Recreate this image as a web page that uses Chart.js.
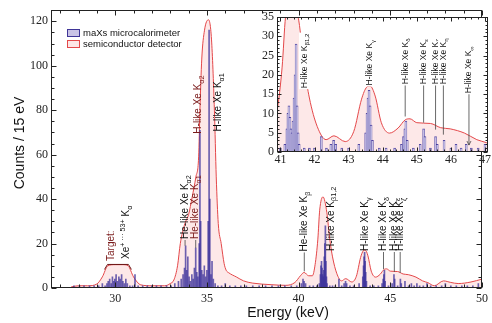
<!DOCTYPE html>
<html>
<head>
<meta charset="utf-8">
<script src="https://cdn.jsdelivr.net/npm/chart.js@4/dist/chart.umd.min.js"></script>
<style>
  html, body { margin: 0; padding: 0; background: #fff; }
  #wrap { position: relative; width: 492px; height: 323px; }
  #main { position: absolute; left: 0; top: 0; }
  #inset { position: absolute; left: 250px; top: 5px; }
</style>
</head>
<body>
<div id="wrap">
  <canvas id="main" width="492" height="323"></canvas>
  <canvas id="inset" width="242" height="170"></canvas>
</div>
<script>
// semiconductor detector (smooth curve), keV / counts
const semiEnergy = [27.6, 28.0, 28.5, 29.0, 29.3, 29.6, 30.0, 30.4, 30.7, 31.0, 31.4, 32.0, 32.7, 33.0, 33.2, 33.4,
  33.55, 33.8, 34.0, 34.2, 34.4, 34.55, 34.62, 34.72, 34.87, 35.09, 35.25, 35.41, 35.51, 35.62, 35.78, 35.94,
  36.05, 36.2, 36.6, 37.0, 37.5, 38.5, 39.3, 39.8, 40.1, 40.3, 40.55, 40.75, 40.9, 41.05, 41.15, 41.33,
  41.54, 41.7, 41.85, 42.08, 42.34, 42.57, 42.9, 43.15, 43.38, 43.53, 43.63, 43.78, 43.96, 44.2, 44.45,
  44.67, 44.8, 45.0, 45.4, 45.7, 45.98, 46.4, 46.76, 47.05, 47.4, 47.9, 48.3, 48.7, 49.4, 50.0];
const semiCounts = [0.5, 1.0, 1.0, 1.8, 5, 10, 10.5, 10.5, 10, 5, 1.4, 1.0, 1.0, 2, 3.6, 10,
  20, 29, 33, 41, 50, 59, 80, 103, 116, 120.7, 112, 80, 50, 29, 20, 11,
  8, 6.8, 5, 3.2, 2.2, 1.5, 1.2, 2.5, 5.5, 7, 5.5, 5.5, 10.5, 22, 35, 41,
  34, 22, 14, 6.6, 3.2, 4.2, 2.7, 5.3, 13.7, 16.8, 17.1, 14.5, 7.6, 4.9, 6.2,
  8.4, 8.6, 7.6, 7.4, 6.3, 6.0, 4.9, 3.2, 2.4, 1.0, 3.2, 2.5, 2.0, 2.7, 4];

// maXs microcalorimeter (15 eV bins), keV / counts
const microEnergy = [27.75, 28.05, 28.3, 28.6, 28.85, 29.1, 29.3, 29.45, 29.55, 29.62, 29.7, 29.78, 29.85, 29.92,
  29.98, 30.05, 30.12, 30.2, 30.27, 30.35, 30.42, 30.5, 30.58, 30.66, 30.8, 30.95, 31.08, 31.25, 31.5, 31.75,
  32.0, 32.25, 32.5, 32.8, 33.05, 33.25, 33.45, 33.6, 33.7, 33.78, 33.84, 33.9, 33.96, 34.03, 34.1, 34.18,
  34.25, 34.32, 34.39, 34.45, 34.51, 34.58, 34.62, 34.66, 34.72, 34.79, 34.86, 34.93, 35.0, 35.07, 35.12,
  35.16, 35.22, 35.28, 35.35, 35.45, 35.6, 35.8, 36.0, 36.25, 36.55, 36.85, 37.15, 37.5, 37.85, 38.2, 38.55,
  38.9, 39.25, 39.6, 39.9, 40.15, 40.24, 40.3, 40.38, 40.6, 40.8, 41.0, 41.13, 41.19, 41.22, 41.25, 41.28,
  41.31, 41.34, 41.37, 41.4, 41.43, 41.46, 41.49, 41.52, 41.55, 41.7, 41.85, 42.0, 42.2, 42.35, 42.48, 42.56,
  42.62, 42.8, 43.0, 43.3, 43.5, 43.54, 43.57, 43.6, 43.63, 43.66, 43.7, 43.9, 44.1, 44.35, 44.55, 44.61,
  44.65, 44.68, 44.72, 44.9, 45.1, 45.2, 45.24, 45.4, 45.55, 45.6, 45.8, 46.0, 46.15, 46.3, 46.45, 46.6,
  46.8, 47.0, 47.2, 47.5, 47.8, 48.0, 48.3, 48.6, 48.9, 49.2, 49.5, 49.8];
const microCounts = [1, 1, 1, 1, 1, 1, 2, 1, 2, 3, 4, 2, 5, 3,
  4, 6, 3, 5, 4, 6, 3, 2, 4, 2, 1, 1, 6, 1, 1, 1,
  1, 1, 1, 1, 1, 2, 3, 4, 6, 9, 19, 8, 14, 5, 3, 6,
  4, 9, 18, 7, 5, 20, 71, 30, 8, 6, 10, 5, 8, 30, 116,
  40, 6, 12, 4, 2, 1, 1, 2, 1, 1, 1, 1, 1, 1, 1, 1,
  1, 1, 1, 1, 2, 4, 3, 2, 1, 1, 1, 2, 6, 10, 12, 9,
  6, 5, 8, 14, 20, 28, 12, 5, 2, 1, 1, 1, 4, 1, 2, 3,
  2, 1, 1, 2, 5, 10, 14, 16, 12, 7, 3, 1, 1, 1, 2, 4,
  6, 8, 3, 1, 2, 6, 4, 1, 4, 2, 3, 1, 2, 1, 2, 1,
  1, 2, 1, 1, 1, 2, 1, 1, 1, 1, 1, 2];

const seriesNames = ['maXs microcalorimeter', 'semiconductor detector'];

// peak annotations: energy, label start (counts), optional pointer end (counts)
const mainLabels = [
  { e: 29.81, at: 11.7, segs: [['Target:', 0]], color: '#7a1a1a' },
  { e: 30.61, at: 12.6, segs: [['Xe', 0], ['+ \u00b7\u00b7\u00b7 53+', -1], [' K', 0], ['\u03b1', 1]] },
  { e: 33.81, at: 21.6, to: 19, segs: [['He-like Xe K', 0], ['\u03b12', 1]] },
  { e: 34.39, at: 21.6, to: 18, segs: [['He-like Xe K', 0], ['\u03b11', 1]], color: '#7a1a1a' },
  { e: 34.55, at: 69, segs: [['H-like Xe K', 0], ['\u03b12', 1]], color: '#7a1a1a' },
  { e: 35.62, at: 70, segs: [['H-like Xe K', 0], ['\u03b11', 1]] },
  { e: 40.31, at: 16, to: 7.5, segs: [['He-like Xe K', 0], ['\u03b2', 1]] },
  { e: 41.76, at: 16.2, segs: [['H-like Xe K', 0], ['\u03b21,2', 1]] },
  { e: 43.62, at: 16.2, segs: [['H-like Xe K', 0], ['\u03b3', 1]] },
  { e: 44.63, at: 16.2, to: 8.5, segs: [['H-like Xe K', 0], ['\u03b4', 1]] },
  { e: 45.22, at: 16.2, to: 7.2, segs: [['H-like Xe K', 0], ['\u03b5', 1]] },
  { e: 45.54, at: 16.2, to: 6.8, segs: [['H-like Xe K', 0], ['\u03b6', 1]] }
];
const insetLabels = [
  { e: 41.7, at: 16.3, segs: [['H-like Xe K', 0], ['\u03b21,2', 1]], bg: true },
  { e: 43.63, at: 17.0, segs: [['H-like Xe K', 0], ['\u03b3', 1]], bg: true },
  { e: 44.66, at: 17.3, to: 9.2, segs: [['H-like Xe K', 0], ['\u03b4', 1]], bg: true },
  { e: 45.2, at: 17.3, to: 7.6, segs: [['H-like Xe K', 0], ['\u03b5', 1]], bg: true },
  { e: 45.55, at: 17.3, to: 5.8, segs: [['H-like Xe K', 0], ['\u03b6', 1]], bg: true },
  { e: 45.78, at: 17.3, to: 4.5, segs: [['H-like Xe K', 0], ['\u03b7', 1]], bg: true },
  { e: 46.53, at: 15, to: 1.8, segs: [['H-like Xe K', 0], ['\u221e', 1]], bg: true, arrow: true }
];

const SANS = '"Liberation Sans", Arial, sans-serif';
const SERIF = '"Liberation Serif", "Times New Roman", serif';
const toPoints = (xs, ys) => xs.map((x, i) => ({ x: x, y: ys[i] }));

// rotated text reading bottom-to-top, with sub/superscripts
function drawRich(ctx, x, y, segs, size, color, bg) {
  ctx.save();
  ctx.translate(x, y);
  ctx.rotate(-Math.PI / 2);
  ctx.textBaseline = 'middle';
  ctx.textAlign = 'left';
  const fontOf = s => (s[1] ? size * 0.72 : size) + 'px ' + SANS;
  let w = 0;
  segs.forEach(s => { ctx.font = fontOf(s); w += ctx.measureText(s[0]).width; });
  if (bg) {
    ctx.fillStyle = '#fff';
    ctx.fillRect(-1, -size * 0.62, w + 2, size * 1.3);
  }
  ctx.fillStyle = color;
  let cx = 0;
  segs.forEach(s => {
    ctx.font = fontOf(s);
    ctx.fillText(s[0], cx, s[1] * size * 0.36);
    cx += ctx.measureText(s[0]).width;
  });
  ctx.restore();
}

const decor = {
  id: 'decor',
  beforeDatasetsDraw(chart, args, o) {
    if (!o.white) return;
    const a = chart.chartArea, ctx = chart.ctx;
    ctx.save();
    ctx.fillStyle = '#fff';
    ctx.fillRect(a.left, a.top, a.right - a.left, a.bottom - a.top);
    ctx.restore();
  },
  afterDatasetsDraw(chart, args, o) {
    const ctx = chart.ctx, a = chart.chartArea, sx = chart.scales.x, sy = chart.scales.y;
    ctx.save();

    // labels with pointer lines
    (o.labels || []).forEach(l => {
      const px = sx.getPixelForValue(l.e), py = sy.getPixelForValue(l.at);
      if (l.to !== undefined) {
        const pt = sy.getPixelForValue(l.to);
        ctx.strokeStyle = '#444';
        ctx.lineWidth = 0.8;
        ctx.beginPath(); ctx.moveTo(px, py); ctx.lineTo(px, pt); ctx.stroke();
        if (l.arrow) {
          ctx.beginPath(); ctx.moveTo(px - 2, pt - 4); ctx.lineTo(px, pt); ctx.lineTo(px + 2, pt - 4); ctx.stroke();
        }
      }
      drawRich(ctx, px, py - 1, l.segs, o.fontSize, l.color || '#111', l.bg);
    });

    // target bracket
    if (o.bracket) {
      const b = o.bracket;
      const p1 = sx.getPixelForValue(b.e1), p2 = sx.getPixelForValue(b.e2), pc = sy.getPixelForValue(b.c);
      ctx.strokeStyle = '#6b1515';
      ctx.lineWidth = 1;
      ctx.beginPath();
      ctx.moveTo(p1 - 3, pc + 5); ctx.lineTo(p1, pc); ctx.lineTo(p2, pc); ctx.lineTo(p2 + 3, pc + 5);
      ctx.stroke();
    }

    // frame with inward ticks
    const L = Math.round(a.left) + 0.5, R = Math.round(a.right) - 0.5;
    const T = Math.round(a.top) + 0.5, B = Math.round(a.bottom) - 0.5;
    ctx.strokeStyle = '#222';
    ctx.lineWidth = 1;
    ctx.strokeRect(L, T, R - L, B - T);
    ctx.beginPath();
    const tk = (scale, step, major, horiz) => {
      const lo = Math.ceil(scale.min / step - 1e-6), hi = Math.floor(scale.max / step + 1e-6);
      for (let k = lo; k <= hi; k++) {
        const v = k * step;
        const len = Math.abs(v / major - Math.round(v / major)) < 1e-6 ? o.major : o.minor;
        const p = Math.round(scale.getPixelForValue(v)) + 0.5;
        if (horiz) {
          ctx.moveTo(p, B); ctx.lineTo(p, B - len);
          ctx.moveTo(p, T); ctx.lineTo(p, T + len);
        } else {
          ctx.moveTo(L, p); ctx.lineTo(L + len, p);
          ctx.moveTo(R, p); ctx.lineTo(R - len, p);
        }
      }
    };
    tk(sx, o.xMinor, o.xMajor, true);
    tk(sy, o.yMinor, o.yMajor, false);
    ctx.stroke();

    // legend
    if (o.legend) {
      const g = o.legend;
      const sw = [['#c9c3e6', '#3f3597'], ['#fde6e6', '#e4484a']];
      ctx.font = '9.5px ' + SANS;
      ctx.textBaseline = 'middle';
      ctx.textAlign = 'left';
      seriesNames.forEach((name, i) => {
        const yy = g.y + i * g.gap;
        ctx.fillStyle = sw[i][0];
        ctx.fillRect(g.x, yy - 3.5, 13, 7);
        ctx.strokeStyle = sw[i][1];
        ctx.lineWidth = 1;
        ctx.strokeRect(g.x + 0.5, yy - 3.5, 12, 7);
        ctx.fillStyle = '#111';
        ctx.fillText(name, g.x + 16, yy);
      });
    }

    // axis titles
    if (o.xTitle) {
      ctx.font = '14px ' + SANS;
      ctx.fillStyle = '#111';
      ctx.textAlign = 'center';
      ctx.textBaseline = 'middle';
      ctx.fillText(o.xTitle.text, o.xTitle.x, o.xTitle.y);
      ctx.save();
      ctx.translate(o.yTitle.x, o.yTitle.y);
      ctx.rotate(-Math.PI / 2);
      ctx.fillText(o.yTitle.text, 0, 0);
      ctx.restore();
    }
    ctx.restore();
  }
};

function axes(xmin, xmax, xstep, ymax, ystep, yWidth, xHeight, xPad) {
  const tickFont = { family: SERIF, size: 12 };
  return {
    x: {
      type: 'linear', min: xmin, max: xmax, offset: false,
      grid: { display: false, drawTicks: false, offset: false }, border: { display: false },
      ticks: { stepSize: xstep, includeBounds: false, padding: xPad, maxRotation: 0, autoSkip: false, font: tickFont, color: '#222' },
      afterFit: s => { s.height = xHeight; }
    },
    y: {
      type: 'linear', min: 0, max: ymax,
      grid: { display: false, drawTicks: false }, border: { display: false },
      ticks: { stepSize: ystep, includeBounds: false, padding: 3, font: tickFont, color: '#222' },
      afterFit: s => { s.width = yWidth; }
    }
  };
}

function datasets(barW, barFill, barBorder) {
  return [
    {
      type: 'bar', label: seriesNames[0], data: toPoints(microEnergy, microCounts),
      backgroundColor: barFill, borderColor: 'rgba(55,45,150,0.85)', borderWidth: barBorder,
      borderSkipped: 'start', barThickness: barW, order: 1
    },
    {
      type: 'line', label: seriesNames[1], data: toPoints(semiEnergy, semiCounts),
      borderColor: '#e4484a', borderWidth: 1, backgroundColor: '#fde8e8', fill: 'origin',
      pointRadius: 0, cubicInterpolationMode: 'monotone', order: 2
    }
  ];
}

new Chart(document.getElementById('main'), {
  type: 'line',
  data: { datasets: datasets(1, 'rgba(60,50,155,0.75)', 0) },
  options: {
    responsive: false, animation: false, devicePixelRatio: 1,
    layout: { padding: { top: 10, right: 1, left: 0, bottom: 0 }, autoPadding: false },
    plugins: {
      legend: { display: false }, tooltip: { enabled: false },
      decor: {
        labels: mainLabels, fontSize: 10,
        bracket: { e1: 29.58, e2: 30.72, c: 10.6 },
        major: 5, minor: 3, xMajor: 5, xMinor: 1, yMajor: 20, yMinor: 5,
        legend: { x: 67, y: 33, gap: 11 },
        xTitle: { text: 'Energy (keV)', x: 288, y: 313 },
        yTitle: { text: 'Counts / 15 eV', x: 20, y: 143 }
      }
    },
    scales: axes(26.5, 50, 5, 125, 20, 51, 35, 4)
  },
  plugins: [decor]
});

new Chart(document.getElementById('inset'), {
  type: 'line',
  data: { datasets: datasets(2, '#c3bde3', { top: 1, left: 0.5, right: 0.5, bottom: 0 }) },
  options: {
    responsive: false, animation: false, devicePixelRatio: 1,
    layout: { padding: { top: 12, right: 1, left: 0, bottom: 0 }, autoPadding: false },
    plugins: {
      legend: { display: false }, tooltip: { enabled: false },
      decor: {
        white: true, labels: insetLabels, fontSize: 8.5,
        major: 4, minor: 2, xMajor: 1, xMinor: 0.2, yMajor: 5, yMinor: 1
      }
    },
    scales: axes(40.9, 47.08, 1, 35, 5, 27, 23, 1)
  },
  plugins: [decor]
});
</script>
</body>
</html>
